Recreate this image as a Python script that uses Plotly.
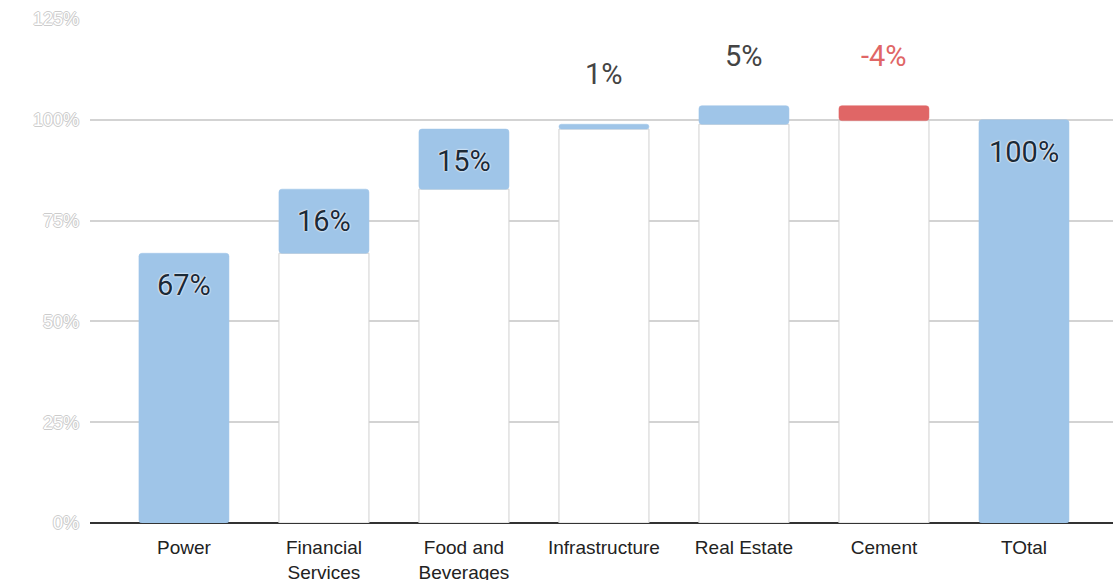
import plotly.graph_objects as go

categories = ["Power", "Financial<br>Services", "Food and<br>Beverages", "Infrastructure", "Real Estate", "Cement", "TOtal"]
changes = [66.9, 15.9, 14.9, 1.2, 4.6, -3.7]
total = 100.0
labels = ["67%", "16%", "15%", "1%", "5%", "-4%", "100%"]
inside = [True, True, True, False, False, False, True]
y_ticks = [0, 25, 50, 75, 100, 125]
y_tick_text = ["0%", "25%", "50%", "75%", "100%", "125%"]

BLUE = "#9fc5e8"
RED = "#e06666"

# compute waterfall geometry from the data
starts, ends = [], []
run = 0.0
for c in changes:
    starts.append(run)
    run += c
    ends.append(run)

step_cats = categories[:len(changes)]
low = [min(s, e) for s, e in zip(starts, ends)]
high = [max(s, e) for s, e in zip(starts, ends)]
colors = [BLUE if c >= 0 else RED for c in changes]

fig = go.Figure()

# invisible (white) supporting bars
sup_cats = [cat for cat, l in zip(step_cats, low) if l > 0]
sup_vals = [l for l in low if l > 0]
fig.add_trace(go.Bar(
    x=sup_cats, y=sup_vals, base=0,
    marker=dict(color="white", line=dict(color="#d0d0d0", width=1)),
    width=0.643, hoverinfo="skip", showlegend=False,
))

# delta bars
fig.add_trace(go.Bar(
    x=step_cats, y=[h - l for h, l in zip(high, low)], base=low,
    marker=dict(color=colors, line=dict(color=colors, width=0.5), cornerradius=3),
    width=0.643, showlegend=False,
))

# total bar
fig.add_trace(go.Bar(
    x=[categories[-1]], y=[total], base=0,
    marker=dict(color=BLUE, line=dict(color=BLUE, width=0.5), cornerradius=3),
    width=0.643, showlegend=False,
))

tops = high + [total]
for i, (cat, top, lab, ins) in enumerate(zip(categories, tops, labels, inside)):
    if ins:
        col = "#1b2a38"
        shift = -32
    else:
        col = RED if lab.startswith("-") else "#444444"
        shift = 50
    fig.add_annotation(
        x=cat, y=top, yshift=shift, text=lab, showarrow=False,
        xanchor="center", yanchor="middle",
        font=dict(family="Roboto", size=29, color=col,
                  shadow="0 0 2px white, 0 0 2px white"),
    )

fig.update_layout(
    width=1113, height=580,
    margin=dict(l=90, r=0, t=19, b=57),
    paper_bgcolor="white", plot_bgcolor="white",
    barmode="overlay",
    showlegend=False,
    xaxis=dict(
        type="category", categoryorder="array", categoryarray=categories,
        range=[-0.671, 6.636], automargin=False,
        showgrid=False, showline=False, ticks="",
        tickfont=dict(family="Liberation Sans, Arial", size=19, color="#222222"),
        ticklabelstandoff=11,
    ),
    yaxis=dict(
        range=[0, 125], automargin=False,
        tickvals=y_ticks, ticktext=y_tick_text,
        showgrid=True, gridcolor="#d3d3d3", gridwidth=1.5,
        zeroline=True, zerolinecolor="#333333", zerolinewidth=2,
        showline=False, ticks="",
        tickfont=dict(family="Liberation Sans, Arial", size=18, color="white",
                      shadow="1px 0 0 #cccccc, -1px 0 0 #cccccc, 0 1px 0 #cccccc, 0 -1px 0 #cccccc"),
        ticklabelstandoff=10,
    ),
)

fig.write_html("out.html")
